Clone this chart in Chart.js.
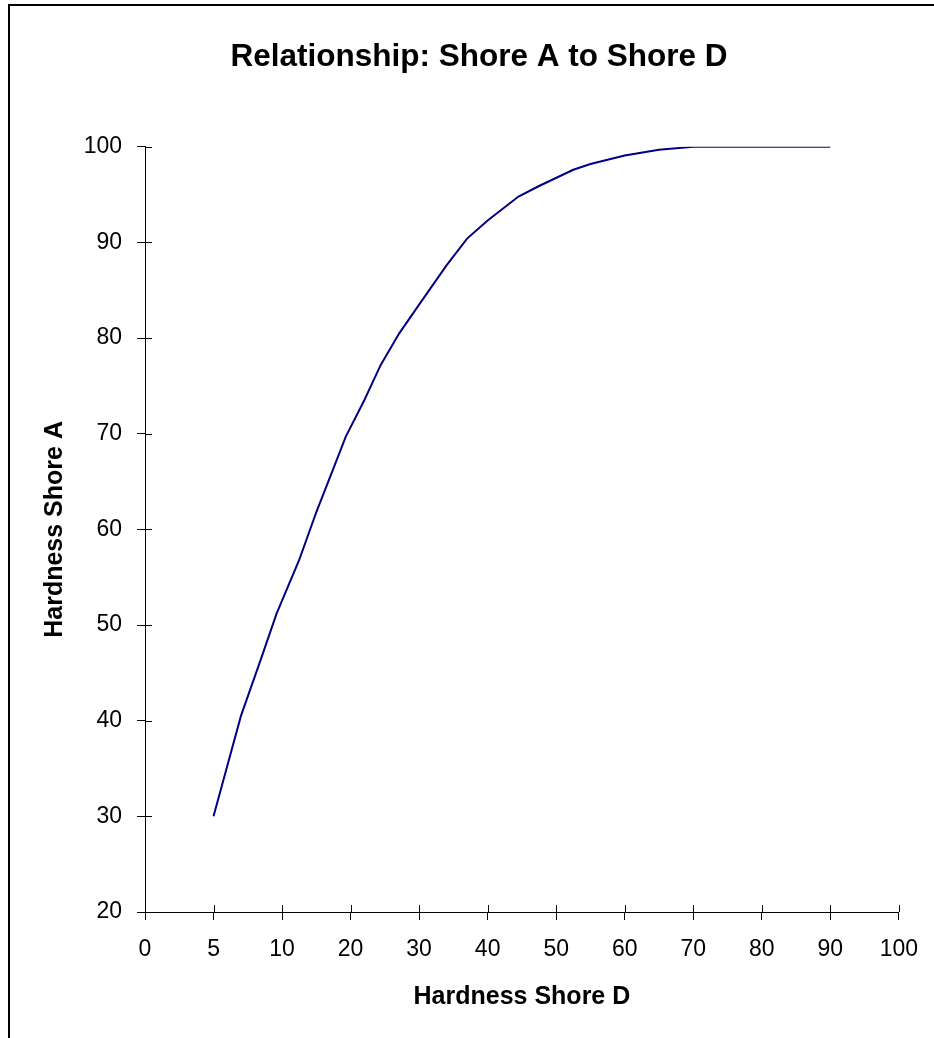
<!DOCTYPE html>
<html>
<head>
<meta charset="utf-8">
<script src="https://cdn.jsdelivr.net/npm/chart.js@4.4.1/dist/chart.umd.min.js"></script>
<style>
  html, body { margin: 0; padding: 0; background: #fff; overflow: hidden; }
  #wrap { position: absolute; left: 0; top: 0; width: 934px; height: 1038px; }
  #frameTop { position: absolute; left: 8px; top: 4px; width: 926px; height: 2px; background: #000; }
  #frameLeft { position: absolute; left: 8px; top: 4px; width: 2px; height: 1034px; background: #000; }
</style>
</head>
<body>
<div id="wrap"><canvas id="shoreChart" width="934" height="1038"></canvas></div>
<div id="frameTop"></div>
<div id="frameLeft"></div>
<script>
// x axis labels are evenly spaced even though the steps are not (0, 5, 10, 20 ...)
const xTickValues = [0, 5, 10, 20, 30, 40, 50, 60, 70, 80, 90, 100];
const yTicks = [20, 30, 40, 50, 60, 70, 80, 90, 100];

// Shore D -> Shore A
const shoreD = [5, 7, 8.4, 9.6, 12.5, 15, 17.4, 19.3, 22, 24.4, 27.1, 30, 34, 37, 40, 44.5, 47.5, 52.5, 55, 60, 65, 70, 80, 90];
const shoreA = [30, 40.5, 46.2, 51.2, 56.8, 61.8, 66.2, 69.7, 73.5, 77.2, 80.5, 83.5, 87.6, 90.4, 92.3, 94.8, 95.9, 97.6, 98.2, 99.1, 99.7, 100, 100, 100];

const FONT = '"Liberation Sans", Arial, sans-serif';

// map a Shore D value onto the axis slot it falls in
function slotOf(d) {
    for (let i = 0; i < xTickValues.length - 1; i++) {
        const a = xTickValues[i], b = xTickValues[i + 1];
        if (d <= b) return i + (d - a) / (b - a);
    }
    return xTickValues.length - 1;
}

const points = shoreD.map((d, i) => ({ x: slotOf(d), y: shoreA[i] }));

// ticks in the reference cross the axis line; chart.js draws the outer half
const innerTicks = {
    id: 'innerTicks',
    afterDraw(chart) {
        const { ctx, scales: { x, y } } = chart;
        ctx.save();
        ctx.strokeStyle = '#000';
        ctx.lineWidth = 1;
        ctx.beginPath();
        x.ticks.forEach(t => {
            const px = Math.round(x.getPixelForValue(t.value)) + 0.5;
            ctx.moveTo(px, x.top);
            ctx.lineTo(px, x.top - 7);
        });
        y.ticks.forEach(t => {
            const py = Math.round(y.getPixelForValue(t.value)) + 0.5;
            ctx.moveTo(y.right, py);
            ctx.lineTo(y.right + 7, py);
        });
        ctx.stroke();
        ctx.restore();
    }
};

new Chart(document.getElementById('shoreChart'), {
    type: 'line',
    data: {
        datasets: [{
            label: 'Shore A',
            data: points,
            borderColor: '#000080',
            borderWidth: 2,
            pointRadius: 0,
            tension: 0,
            fill: false,
        }],
    },
    options: {
        responsive: false,
        animation: false,
        // left padding pushes the centred title right, as in the reference
        layout: { padding: { top: 38, right: 31, bottom: 0, left: 55 } },
        plugins: {
            legend: { display: false },
            tooltip: { enabled: false },
            title: {
                display: true,
                text: 'Relationship: Shore A to Shore D',
                color: '#000',
                font: { family: FONT, size: 31.5, weight: 'bold' },
                padding: { top: 0, bottom: 71 },
            },
        },
        scales: {
            x: {
                type: 'linear',
                min: 0,
                max: xTickValues.length - 1,
                afterBuildTicks: s => { s.ticks = xTickValues.map((v, i) => ({ value: i })); },
                afterFit: s => { s.height = 126; },
                ticks: {
                    color: '#000',
                    font: { family: FONT, size: 23 },
                    padding: 16,
                    maxRotation: 0,
                    autoSkip: false,
                    callback: v => String(xTickValues[v]),
                },
                grid: { drawOnChartArea: false, tickLength: 8, color: '#000' },
                border: { color: '#000', width: 1 },
                title: {
                    display: true,
                    text: 'Hardness Shore D',
                    color: '#000',
                    font: { family: FONT, size: 25, weight: 'bold' },
                    padding: { top: 0, bottom: 26 },
                },
            },
            y: {
                min: yTicks[0],
                max: yTicks[yTicks.length - 1],
                afterBuildTicks: s => { s.ticks = yTicks.map(v => ({ value: v })); },
                afterFit: s => { s.width = 90; },
                ticks: {
                    color: '#000',
                    font: { family: FONT, size: 23 },
                    padding: 15,
                },
                grid: { drawOnChartArea: false, tickLength: 8, color: '#000' },
                border: { color: '#000', width: 1 },
                title: {
                    display: true,
                    text: 'Hardness Shore A',
                    color: '#000',
                    font: { family: FONT, size: 25, weight: 'bold' },
                    padding: { top: -15, bottom: 0 },
                },
            },
        },
    },
    plugins: [innerTicks],
});
</script>
</body>
</html>
